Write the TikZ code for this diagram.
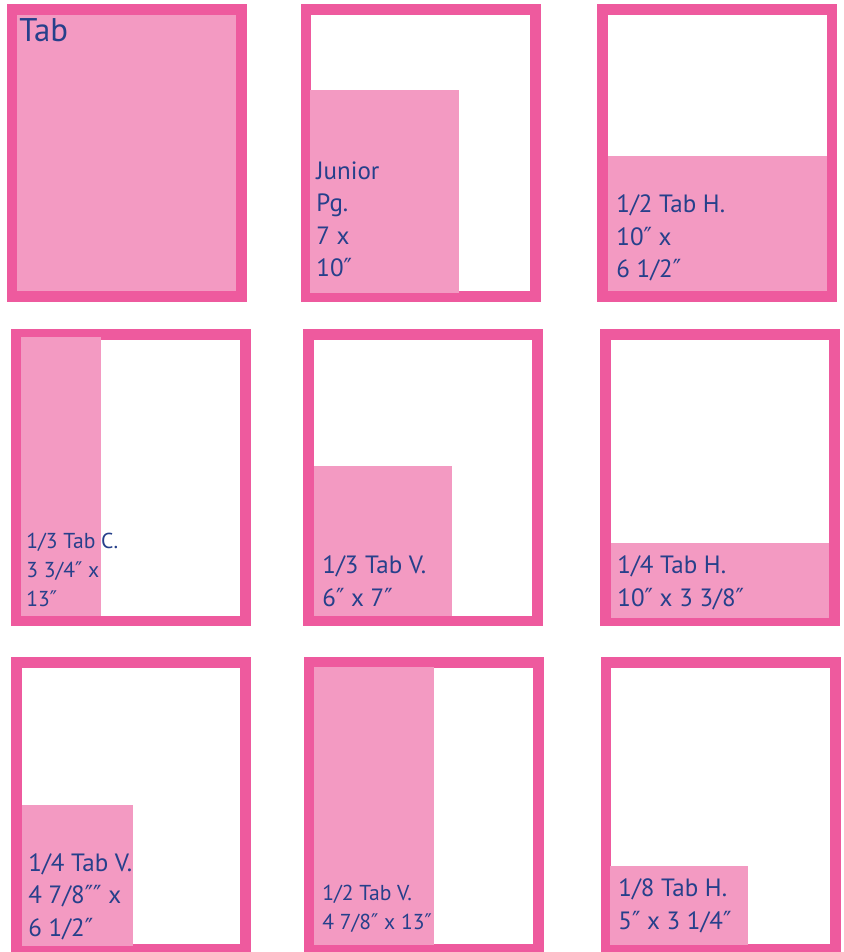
\documentclass[tikz,border=0pt]{standalone}
\usepackage{fontspec}
\setmainfont{PT Sans}
\newfontfamily\primefont{DejaVu Sans}
\newcommand{\inch}{{\primefont\scalebox{0.9}[1]{″}}}
\usepackage{tikz}
\usetikzlibrary{positioning}
\definecolor{framepink}{HTML}{EE5A9E}
\definecolor{adpink}{HTML}{F39AC2}
\definecolor{labelnavy}{HTML}{26408B}

\begin{document}
\begin{tikzpicture}[x=0.5pt, y=-0.5pt,
    pageframe/.style={draw=framepink, line width=5.25pt, fill=white},
    adarea/.style={fill=adpink},
    adlabel/.style={text=labelnavy, anchor=base west, inner sep=0pt, align=left, font=\fontsize{12.5}{16.25}\selectfont},
    smalllabel/.style={adlabel, font=\fontsize{10.8}{14.5}\selectfont}]
          \useasboundingbox (0,0) rectangle (844,952);

          % Fila 1: Tab, Junior Pg., 1/2 Tab H.
          \draw[pageframe] (12,9.5) rectangle (241.5,296.5);
          \fill[adarea] (17,15) rectangle (236,291);
          \node[adlabel, font=\fontsize{16.4}{20}\selectfont] (tab) at (19,42) {Tab};

          \draw[pageframe] (306,9.5) rectangle (535.5,296.5);
          \fill[adarea] (310,90) rectangle (459,293);
          \node[adlabel] (junior) at (316,277) {Junior\\Pg.\\7 x\\10\inch};

          \draw[pageframe] (602.5,9.5) rectangle (832,296.5);
          \fill[adarea] (608,156) rectangle (827,291);
          \node[adlabel] (halfH) at (616,278) {1/2 Tab H.\\10\inch{} x\\6 1/2\inch};

          % Fila 2: 1/3 Tab C., 1/3 Tab V., 1/4 Tab H.
          \draw[pageframe] (16,334.5) rectangle (245.5,621);
          \fill[adarea] (21,337) rectangle (101,616);
          \node[smalllabel] (thirdC) at (26,606) {1/3 Tab C.\\3 3/4\inch{} x\\13\inch};

          \draw[pageframe] (308.5,334.5) rectangle (537.5,621);
          \fill[adarea] (314,466) rectangle (452,616);
          \node[adlabel] (thirdV) at (322,606) {1/3 Tab V.\\6\inch{} x 7\inch};

          \draw[pageframe] (605.5,334.5) rectangle (834.5,621);
          \fill[adarea] (611,543) rectangle (829,618);
          \node[adlabel] (quarterH) at (617,606) {1/4 Tab H.\\10\inch{} x 3 3/8\inch};

          % Fila 3: 1/4 Tab V., 1/2 Tab V., 1/8 Tab H.
          \draw[pageframe] (16.5,662.5) rectangle (245.5,949);
          \fill[adarea] (22,805) rectangle (133,946);
          \node[adlabel] (quarterV) at (28,936) {1/4 Tab V.\\4 7/8\inch\inch{} x\\6 1/2\inch};

          \draw[pageframe] (309,662.5) rectangle (538.5,949);
          \fill[adarea] (314,667) rectangle (434,945);
          \node[smalllabel] (halfV) at (322,929) {1/2 Tab V.\\4 7/8\inch{} x 13\inch};

          \draw[pageframe] (606,662.5) rectangle (835.5,949);
          \fill[adarea] (610,866) rectangle (748,945);
          \node[adlabel] (eighthH) at (618,929) {1/8 Tab H.\\5\inch{} x 3 1/4\inch};
        \end{tikzpicture}
\end{document}
